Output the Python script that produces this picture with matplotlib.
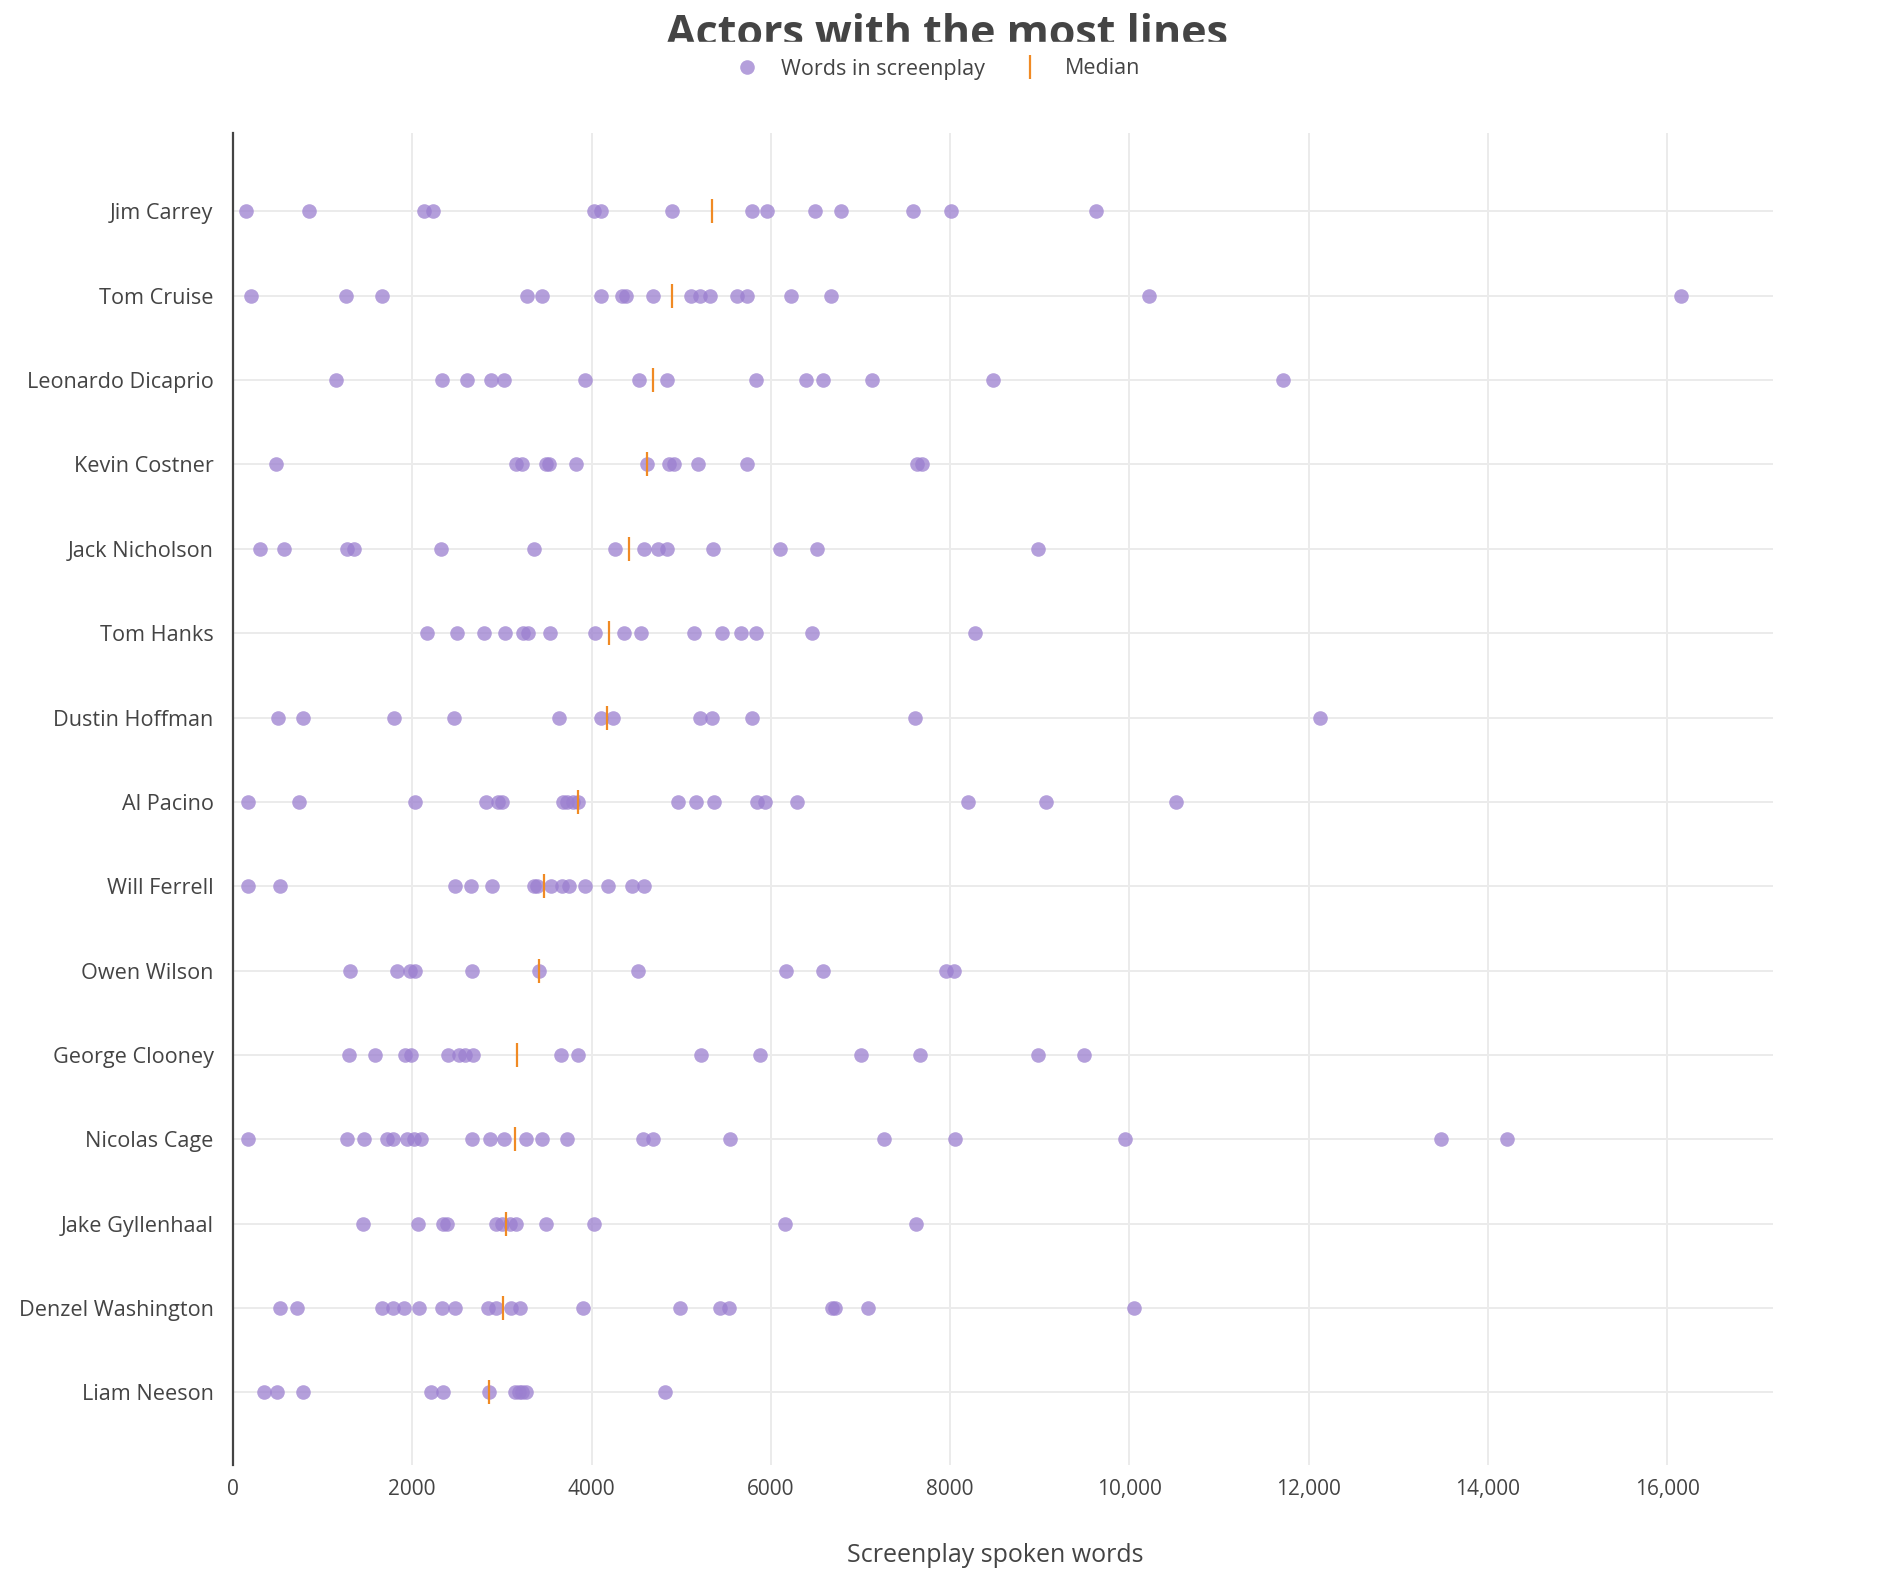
import matplotlib
matplotlib.use("Agg")
import matplotlib.pyplot as plt
from matplotlib.patches import Rectangle
from matplotlib.lines import Line2D
import numpy as np

plt.rcParams['font.family'] = ['Open Sans', 'DejaVu Sans']

# actors, top to bottom
actors = ["Jim Carrey", "Tom Cruise", "Leonardo Dicaprio", "Kevin Costner",
          "Jack Nicholson", "Tom Hanks", "Dustin Hoffman", "Al Pacino",
          "Will Ferrell", "Owen Wilson", "George Clooney", "Nicolas Cage",
          "Jake Gyllenhaal", "Denzel Washington", "Liam Neeson"]

# words spoken per screenplay
jim_carrey = [142, 848, 2130, 2237, 4025, 4110, 4901, 5791, 5955, 6489, 6788,
              7586, 8013, 9623]
tom_cruise = [199, 1260, 1666, 3275, 3453, 4108, 4336, 4386, 4685, 5105, 5212,
              5326, 5625, 5732, 6223, 6671, 10214, 16150]
leonardo_dicaprio = [1146, 2328, 2606, 2877, 3026, 3930, 4528, 4842, 5831,
                     6394, 6586, 7127, 8480, 11716]
kevin_costner = [477, 3162, 3226, 3490, 3530, 3830, 4614, 4863, 4920, 5183,
                 5732, 7628, 7685]
jack_nicholson = [299, 570, 1275, 1346, 2321, 3362, 4258, 4587, 4743, 4842,
                  5354, 6104, 6515, 8979]
tom_hanks = [2164, 2499, 2798, 3040, 3233, 3290, 3532, 4037, 4357, 4550, 5141,
             5454, 5668, 5831, 6458, 8273]
dustin_hoffman = [506, 776, 1801, 2464, 3632, 4108, 4244, 5205, 5340, 5789,
                  7612, 12130]
al_pacino = [164, 740, 2036, 2820, 2955, 3005, 3680, 3730, 3790, 3845, 4970,
             5162, 5361, 5846, 5938, 6294, 8195, 9071, 10523]
will_ferrell = [164, 527, 2479, 2650, 2892, 3362, 3390, 3553, 3668, 3753, 3924,
                4180, 4452, 4587]
owen_wilson = [1310, 1830, 1972, 2036, 2670, 3418, 4521, 6166, 6586, 7953,
               8046]
george_clooney = [1296, 1588, 1915, 1987, 2400, 2520, 2592, 2677, 3660, 3852,
                  5226, 5881, 7006, 7668, 8978, 9498]
nicolas_cage = [164, 1274, 1467, 1716, 1787, 1937, 2022, 2093, 2670, 2863, 3026,
                3268, 3446, 3724, 4573, 4686, 5541, 7262, 8060, 9947, 13477,
                14215]
jake_gyllenhaal = [1453, 2065, 2343, 2385, 2934, 3005, 3090, 3161, 3496, 4030,
                   6159, 7625]
denzel_washington = [520, 719, 1659, 1787, 1908, 2072, 2335, 2478, 2841, 2934,
                     3097, 3197, 3909, 4991, 5433, 5532, 6686, 6721, 7085,
                     10047]
liam_neeson = [342, 491, 776, 2207, 2343, 2855, 3147, 3190, 3230, 3270, 4820]

words = [jim_carrey, tom_cruise, leonardo_dicaprio, kevin_costner,
         jack_nicholson, tom_hanks, dustin_hoffman, al_pacino, will_ferrell,
         owen_wilson, george_clooney, nicolas_cage, jake_gyllenhaal,
         denzel_washington, liam_neeson]

xticks = [0, 2000, 4000, 6000, 8000, 10000, 12000, 14000, 16000]
xtick_labels = ["0", "2000", "4000", "6000", "8000", "10,000", "12,000",
                "14,000", "16,000"]

dot_color = '#9b7fd0'
median_color = '#f08a24'
text_color = '#444444'

fig = plt.figure(figsize=(18.94, 15.96), dpi=100)
ax = fig.add_axes([0.1230, 0.0821, 0.8131, 0.8346])

# dots and median ticks for each actor
for i, vals in enumerate(words):
    ax.scatter(vals, [i] * len(vals), s=110, color=dot_color, alpha=0.75,
               linewidths=0, zorder=3)
    ax.plot([np.median(vals)], [i], marker='|', markersize=17,
            markeredgewidth=1.6, color=median_color, linestyle='none', zorder=4)

ax.set_xlim(0, 17180)
ax.set_ylim(len(actors) - 1 + 0.86, -0.93)
ax.set_yticks(range(len(actors)))
ax.set_yticklabels(actors)
ax.set_xticks(xticks)
ax.set_xticklabels(xtick_labels)

ax.grid(True, color='#ebebeb', linewidth=1.4, zorder=0)
ax.set_axisbelow(True)
for side in ['top', 'right', 'bottom']:
    ax.spines[side].set_visible(False)
ax.spines['left'].set_color(text_color)
ax.spines['left'].set_linewidth(1.6)
ax.tick_params(axis='y', length=0, labelsize=15.6, colors=text_color, pad=14)
ax.tick_params(axis='x', length=0, labelsize=15, colors=text_color, pad=10)

ax.set_xlabel("Screenplay spoken words", fontsize=18, color=text_color,
              labelpad=31)
ax.xaxis.label.set_x(0.495)

# title, bottom part hidden like in the original
fig.text(0.5, 1 - 46 / 1596, "Actors with the most lines", ha='center',
         va='baseline', fontsize=31, fontweight='bold', color=text_color)
fig.patches.append(Rectangle((0, 1 - 90 / 1596), 1, 48 / 1596,
                             transform=fig.transFigure, color='white',
                             zorder=5))

handles = [
    Line2D([], [], marker='o', linestyle='none', markersize=10.5,
           markerfacecolor=dot_color, markeredgewidth=0, alpha=0.75),
    Line2D([], [], marker='|', linestyle='none', markersize=17,
           markeredgewidth=1.6, color=median_color),
]
leg = fig.legend(handles, ["Words in screenplay", "Median"], loc='center',
                 bbox_to_anchor=(0.4923, 1 - 69 / 1596), ncol=2, frameon=False,
                 fontsize=15.5, handletextpad=0.6, columnspacing=1.1)
leg.set_zorder(6)
for t in leg.get_texts():
    t.set_color(text_color)

fig.savefig("out.png", dpi=100)
